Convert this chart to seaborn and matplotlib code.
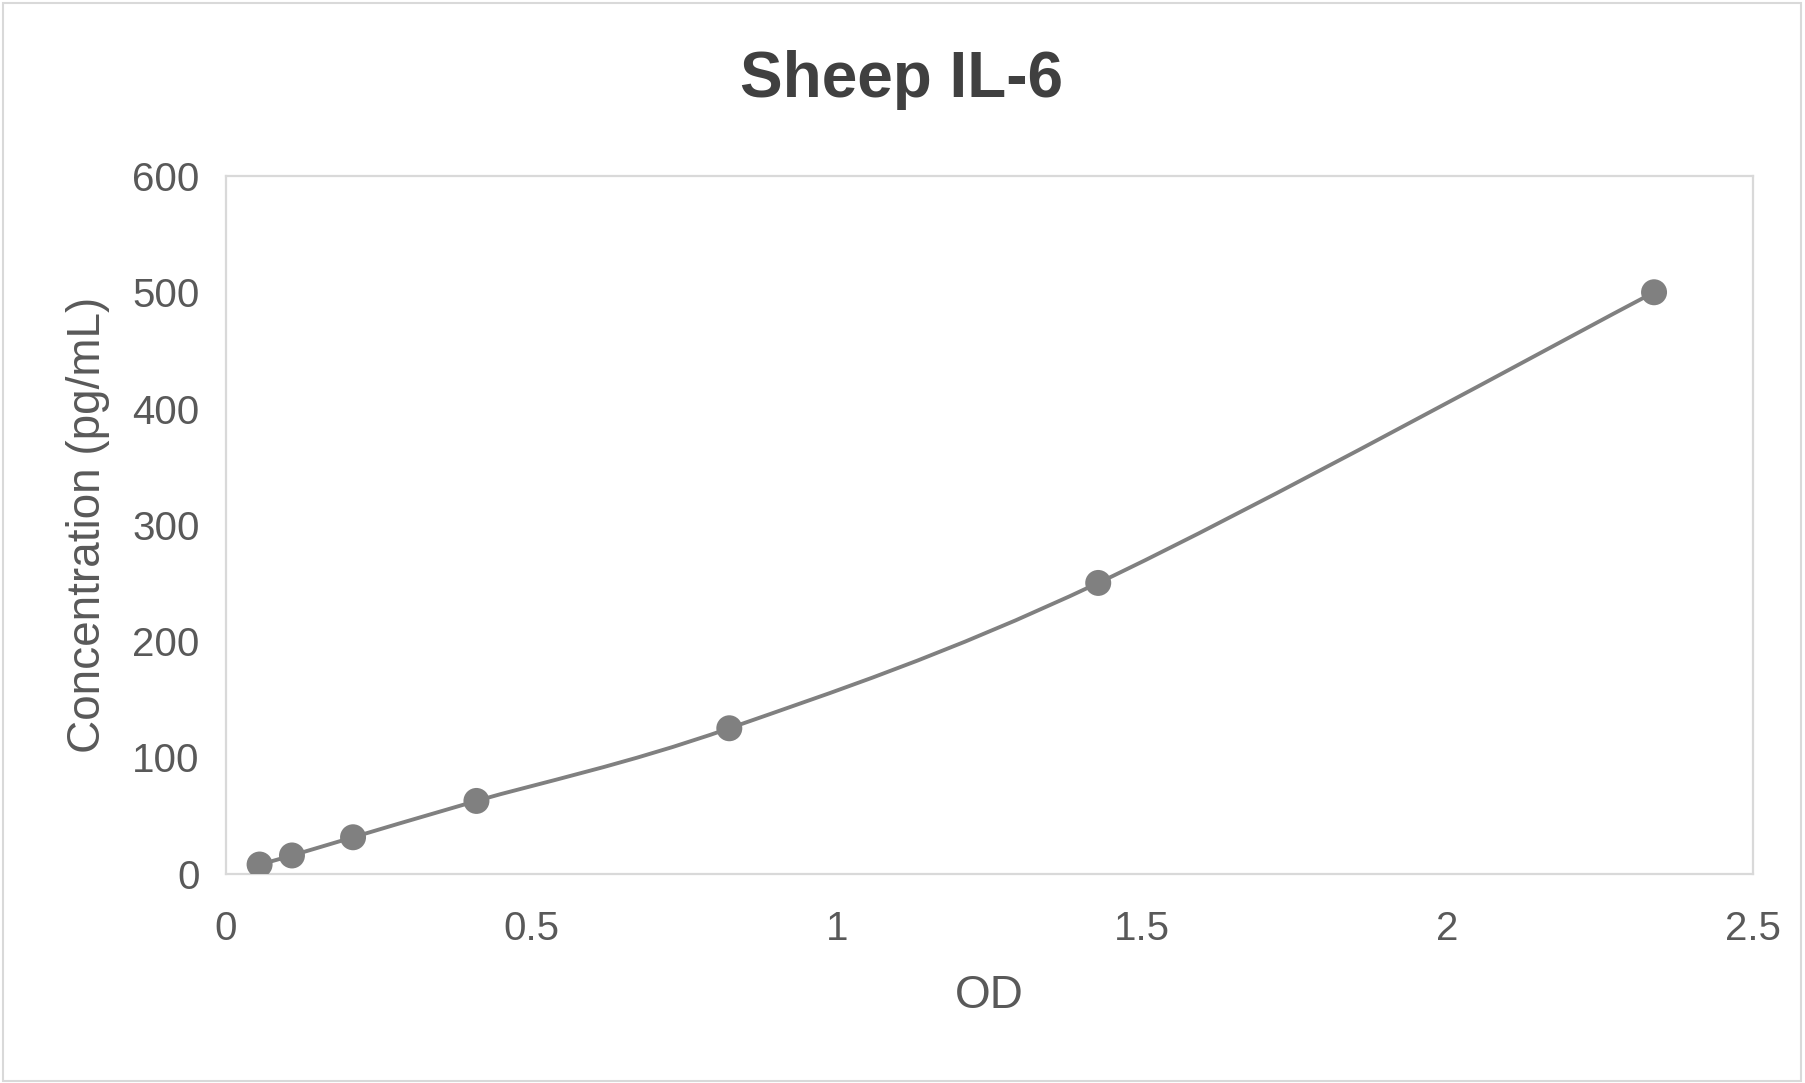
import numpy as np
import pandas as pd
import seaborn as sns
import matplotlib.pyplot as plt
from matplotlib.path import Path
from matplotlib.patches import PathPatch, Rectangle

od = [0.055, 0.108, 0.208, 0.41, 0.824, 1.428, 2.338]
conc = [7.8, 15.6, 31.25, 62.5, 125, 250, 500]
x_ticks = [0, 0.5, 1, 1.5, 2, 2.5]
x_tick_labels = ["0", "0.5", "1", "1.5", "2", "2.5"]
y_ticks = [0, 100, 200, 300, 400, 500, 600]

text_color = "#595959"
line_color = "#808080"
edge_color = "#d9d9d9"

sns.set_theme(style="white")
plt.rcParams['font.family'] = ['Liberation Sans', 'DejaVu Sans']

df = pd.DataFrame({"OD": od, "Concentration": conc})

fig = plt.figure(figsize=(18.06, 10.83), dpi=100)
ax = fig.add_axes([226 / 1806, 1 - 873.6 / 1083, 1527 / 1806, 697.6 / 1083])


def smooth_path(xs, ys):
    # Excel-style smoothed line: cubic bezier segments through the points
    pts = np.column_stack([xs, ys])
    n = len(pts)
    verts = [pts[0]]
    codes = [Path.MOVETO]
    for i in range(n - 1):
        p0 = pts[max(i - 1, 0)]
        p1 = pts[i]
        p2 = pts[i + 1]
        p3 = pts[min(i + 2, n - 1)]
        c1 = p1 + (p2 - p0) / 6
        c2 = p2 - (p3 - p1) / 6
        verts += [c1, c2, p2]
        codes += [Path.CURVE4] * 3
    return Path(verts, codes)


ax.add_patch(PathPatch(smooth_path(df["OD"].values, df["Concentration"].values),
                       fill=False, edgecolor=line_color, linewidth=2.8,
                       capstyle="round", zorder=2))
sns.scatterplot(data=df, x="OD", y="Concentration", ax=ax, s=350,
                color=line_color, edgecolor="none", zorder=3)

ax.set_xlim(0, 2.5)
ax.set_ylim(0, 600)
ax.set_xticks(x_ticks)
ax.set_xticklabels(x_tick_labels)
ax.set_yticks(y_ticks)
ax.tick_params(axis="both", length=0, labelsize=29, colors=text_color)
ax.tick_params(axis="x", pad=26)
ax.tick_params(axis="y", pad=19)
for s in ax.spines.values():
    s.set_visible(True)
    s.set_color(edge_color)
    s.set_linewidth(1.6)

ax.set_xlabel("OD", fontsize=33, color=text_color, labelpad=19)
ax.set_ylabel("Concentration (pg/mL)", fontsize=33, color=text_color, labelpad=16)

fig.text(901.7 / 1806, 1 - 96.7 / 1083, "Sheep IL-6", ha="center", va="baseline",
         fontsize=46, fontweight="bold", color="#404040")

fig.patches.append(Rectangle((0.0015, 0.002), 0.996, 0.995, transform=fig.transFigure,
                             fill=False, edgecolor=edge_color, linewidth=1.5))

fig.savefig("out.png", dpi=100)
